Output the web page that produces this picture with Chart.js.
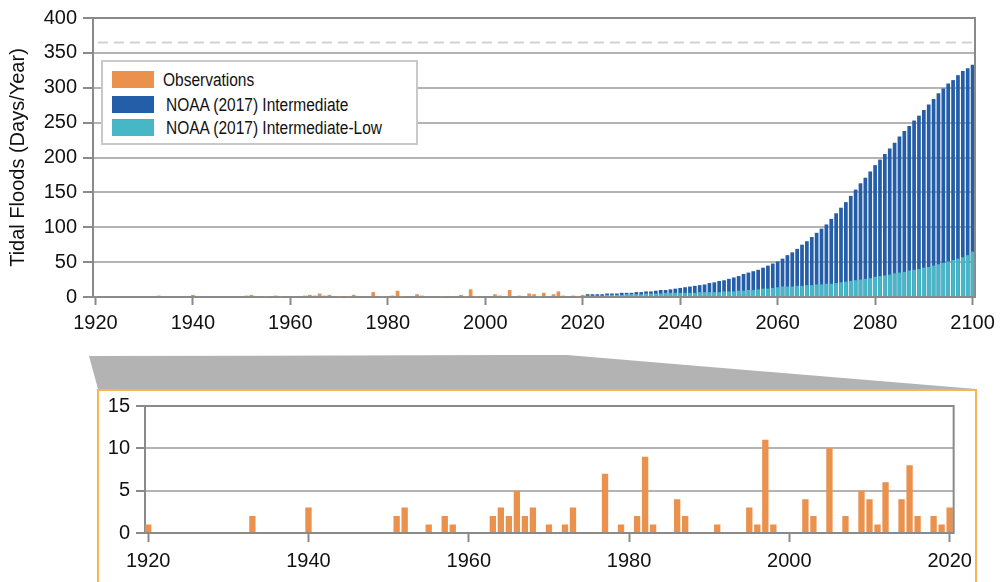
<!DOCTYPE html>
<html>
<head>
<meta charset="utf-8">
<script src="https://cdn.jsdelivr.net/npm/chart.js@4/dist/chart.umd.min.js"></script>
<style>
  body { margin: 0; width: 1003px; height: 582px; position: relative; overflow: hidden; background: #fff; font-family: 'Liberation Sans', Arial, sans-serif; }
  .abs { position: absolute; }
  #legend { left: 101px; top: 60px; width: 317px; height: 85px; border: 2px solid #c9c9c9; box-sizing: border-box; background: #fff; }
  .sw { position: absolute; left: 9px; width: 42px; height: 17px; }
  .lt { position: absolute; font-size: 18px; line-height: 20px; color: #111; white-space: nowrap; transform: scaleX(0.86); transform-origin: left center; }
  #zoomBox { left: 97px; top: 389px; width: 880px; height: 220px; border: 2px solid #f8b551; box-sizing: border-box; }
</style>
</head>
<body>
<canvas id="topChart" class="abs" style="left:0;top:0" width="1003" height="340"></canvas>

<svg class="abs" style="left:0;top:0" width="1003" height="582">
  <polygon points="89,356 567,355 976,389 98,389" fill="#b3b3b3"></polygon>
</svg>
<div id="zoomBox" class="abs"></div>
<canvas id="bottomChart" class="abs" style="left:99px;top:388px" width="880" height="194"></canvas>

<div id="legend" class="abs">
  <div class="sw" style="top:9px;background:#ea914e"></div>
  <div class="lt" style="left:60px;top:8px">Observations</div>
  <div class="sw" style="top:34px;background:#245ea8"></div>
  <div class="lt" style="left:63px;top:33px">NOAA (2017) Intermediate</div>
  <div class="sw" style="top:57px;background:#45b7c6"></div>
  <div class="lt" style="left:63px;top:56px">NOAA (2017) Intermediate-Low</div>
</div>

<script>
// Observed tidal flood days per year (zoom panel + main chart)
const obsYears = [1920, 1933, 1940, 1951, 1952, 1955, 1957, 1958, 1963, 1964,
  1965, 1966, 1967, 1968, 1970, 1972, 1973, 1977, 1979, 1981,
  1982, 1983, 1986, 1987, 1991, 1995, 1996, 1997, 1998, 2002,
  2003, 2005, 2007, 2009, 2010, 2011, 2012, 2014, 2015, 2016,
  2018, 2019, 2020];
const obsDays = [1, 2, 3, 2, 3, 1, 2, 1, 2, 3,
  2, 5, 2, 3, 1, 1, 3, 7, 1, 2,
  9, 1, 4, 2, 1, 3, 1, 11, 1, 4,
  2, 10, 2, 5, 4, 1, 6, 4, 8, 2,
  2, 1, 3];

// Projection years 2021-2100
const projYears = [
  2021, 2022, 2023, 2024, 2025, 2026, 2027, 2028, 2029, 2030,
  2031, 2032, 2033, 2034, 2035, 2036, 2037, 2038, 2039, 2040,
  2041, 2042, 2043, 2044, 2045, 2046, 2047, 2048, 2049, 2050,
  2051, 2052, 2053, 2054, 2055, 2056, 2057, 2058, 2059, 2060,
  2061, 2062, 2063, 2064, 2065, 2066, 2067, 2068, 2069, 2070,
  2071, 2072, 2073, 2074, 2075, 2076, 2077, 2078, 2079, 2080,
  2081, 2082, 2083, 2084, 2085, 2086, 2087, 2088, 2089, 2090,
  2091, 2092, 2093, 2094, 2095, 2096, 2097, 2098, 2099, 2100];

const intermediate = [
  4, 4, 4, 4, 5, 5, 5, 6, 6, 6,
  7, 7, 8, 8, 9, 10, 10, 11, 12, 13,
  14, 15, 16, 17, 18, 20, 21, 23, 24, 26,
  28, 30, 33, 35, 37, 39, 42, 45, 48, 51,
  55, 60, 64, 69, 75, 80, 86, 92, 98, 104,
  112, 120, 128, 136, 145, 154, 163, 171, 180, 189,
  197, 205, 213, 221, 230, 238, 245, 253, 260, 268,
  276, 284, 292, 299, 306, 311, 318, 324, 328, 333];

const intermediateLow = [
  2, 2, 2, 2, 3, 3, 3, 3, 4, 4,
  4, 4, 5, 5, 5, 5, 6, 6, 6, 6,
  6, 6, 6, 7, 7, 7, 7, 7, 8, 8,
  8, 9, 9, 10, 10, 11, 12, 12, 13, 14,
  15, 15, 15, 16, 16, 17, 17, 18, 18, 19,
  19, 20, 21, 22, 23, 24, 25, 26, 27, 29,
  30, 31, 32, 34, 35, 36, 38, 39, 40, 42,
  43, 45, 47, 49, 51, 53, 55, 57, 60, 65];

const daysPerYear = 365;

const topYearRange = [1919.5, 2100.5];
const zoomYearRange = [1919.6, 2020.5];

const colors = {
  obs: '#ea914e',
  inter: '#245ea8',
  interLow: '#45b7c6',
  grid: '#b4b4b4',
  axis: '#8a8a8a',
  text: '#111'
};
const font = { family: "'Liberation Sans', Arial, sans-serif", size: 20 };

const pairs = (xs, ys) => xs.map((x, i) => ({ x, y: ys[i] }));

// right edge of the plot frame
const frameRight = {
  id: 'frameRight',
  afterDraw(chart) {
    const { ctx, chartArea: a } = chart;
    ctx.save();
    ctx.strokeStyle = colors.axis;
    ctx.lineWidth = 2;
    ctx.beginPath();
    ctx.moveTo(a.right, a.top - 1);
    ctx.lineTo(a.right, a.bottom + 1);
    ctx.stroke();
    ctx.restore();
  }
};

function xAxis(range, tickLen, pad) {
  return {
    type: 'linear',
    min: range[0],
    max: range[1],
    offset: false,
    border: { color: colors.axis, width: 2 },
    grid: { drawOnChartArea: false, offset: false, tickLength: tickLen, tickColor: colors.axis, tickWidth: 2 },
    ticks: { stepSize: 20, includeBounds: false, font, color: colors.text, padding: pad, maxRotation: 0,
      callback: v => String(v) }
  };
}

function yAxis(max, step, tickLen) {
  return {
    min: 0,
    max,
    border: { color: colors.axis, width: 2 },
    grid: {
      color: c => (c.tick && (c.tick.value === 0 || c.tick.value === max)) ? colors.axis : colors.grid,
      lineWidth: 2,
      tickLength: tickLen,
      tickColor: colors.axis,
      tickWidth: 2
    },
    ticks: { stepSize: step, font, color: colors.text, padding: 6 }
  };
}

const barStyle = { grouped: false, borderWidth: 0, barPercentage: 0.76, categoryPercentage: 1 };

// Main chart 1920-2100
const topY = yAxis(400, 50, 10);
topY.title = { display: true, text: 'Tidal Floods (Days/Year)', font, color: colors.text, padding: { top: 6, bottom: 0 } };
topY.afterFit = s => { s.width = 93; };
const topX = xAxis(topYearRange, 8, 6);
topX.afterFit = s => { s.height = 43; };

new Chart(document.getElementById('topChart'), {
  data: {
    datasets: [
      { type: 'line', data: [{ x: topYearRange[0] + 1, y: daysPerYear }, { x: topYearRange[1], y: daysPerYear }],
        borderColor: '#d2d2d2', borderWidth: 2, borderDash: [10, 6], pointRadius: 0, order: 3 },
      { type: 'bar', label: 'Observations', data: pairs(obsYears, obsDays), backgroundColor: colors.obs, order: 1, ...barStyle },
      { type: 'bar', label: 'NOAA (2017) Intermediate', data: pairs(projYears, intermediate), backgroundColor: colors.inter, order: 2, ...barStyle },
      { type: 'bar', label: 'NOAA (2017) Intermediate-Low', data: pairs(projYears, intermediateLow), backgroundColor: colors.interLow, order: 0, ...barStyle }
    ]
  },
  options: {
    responsive: false,
    animation: false,
    layout: { padding: { top: 17, right: 28, left: 0, bottom: 0 } },
    plugins: { legend: { display: false }, tooltip: { enabled: false } },
    scales: { x: topX, y: topY }
  },
  plugins: [frameRight]
});

// Zoom panel 1920-2020
const botY = yAxis(15, 5, 9);
botY.afterFit = s => { s.width = 46; };
const botX = xAxis(zoomYearRange, 9, 7);
botX.afterFit = s => { s.height = 49; };

new Chart(document.getElementById('bottomChart'), {
  type: 'bar',
  data: {
    datasets: [
      { label: 'Observations', data: pairs(obsYears, obsDays), backgroundColor: colors.obs, ...barStyle, barPercentage: 0.79 }
    ]
  },
  options: {
    responsive: false,
    animation: false,
    layout: { padding: { top: 14, right: 22, left: 0, bottom: 0 } },
    plugins: { legend: { display: false }, tooltip: { enabled: false } },
    scales: { x: botX, y: botY }
  },
  plugins: [frameRight]
});
</script>
</body>
</html>
